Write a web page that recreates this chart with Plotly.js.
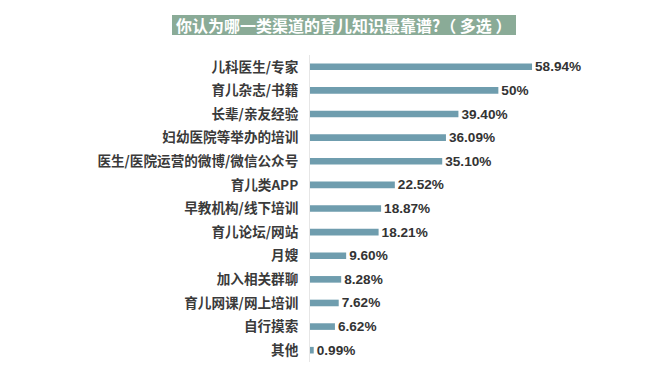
<!DOCTYPE html>
<html>
<head>
<meta charset="utf-8">
<script src="https://cdn.plot.ly/plotly-3.0.1.min.js"></script>
<style>html,body{margin:0;padding:0;background:#fff;}#chart{width:660px;height:372px;}</style>
</head>
<body>
<div id="chart"></div>
<script>
const categories = ["儿科医生/专家","育儿杂志/书籍","长辈/亲友经验","妇幼医院等举办的培训","医生/医院运营的微博/微信公众号","育儿类APP","早教机构/线下培训","育儿论坛/网站","月嫂","加入相关群聊","育儿网课/网上培训","自行摸索","其他"];
const values = [58.94, 50, 39.40, 36.09, 35.10, 22.52, 18.87, 18.21, 9.60, 8.28, 7.62, 6.62, 0.99];
const valueLabels = ["58.94%","50%","39.40%","36.09%","35.10%","22.52%","18.87%","18.21%","9.60%","8.28%","7.62%","6.62%","0.99%"];
const titleText = "你认为哪一类渠道的育儿知识最靠谱?（ 多选 ）";

const fontFam = "'Liberation Sans', Arial, 'Noto Sans CJK SC', sans-serif";

const trace = {
  type: 'bar',
  orientation: 'h',
  y: categories,
  x: values,
  text: valueLabels,
  textposition: 'outside',
  constraintext: 'none',
  cliponaxis: false,
  textfont: {family: fontFam, size: 13.6, color: '#333333', weight: 'bold'},
  marker: {color: '#6f9dae'},
  hoverinfo: 'none'
};

const layout = {
  width: 660, height: 372,
  margin: {l: 310, r: 20, t: 55, b: 10},
  paper_bgcolor: '#ffffff', plot_bgcolor: '#ffffff',
  bargap: 0.72,
  showlegend: false,
  uniformtext: {mode: false},
  xaxis: {range: [0, 87.6], visible: false, fixedrange: true},
  yaxis: {
    autorange: 'reversed',
    showline: true, linecolor: '#e6e6e6', linewidth: 1,
    ticks: '', showgrid: false, zeroline: false,
    ticklabelstandoff: 8,
    tickfont: {family: "'Noto Sans CJK SC', sans-serif", size: 13.6, color: '#3a3a3a', weight: 'bold'}
  },
  shapes: [{
    type: 'rect', xref: 'paper', yref: 'paper',
    x0: (172-310)/330, x1: (516-310)/330,
    y0: (362-35)/307, y1: (362-15)/307,
    fillcolor: '#8aab97', line: {width: 0}, layer: 'below'
  }],
  annotations: [{
    xref: 'paper', yref: 'paper',
    x: (344-310)/330, y: (362-25)/307,
    xanchor: 'center', yanchor: 'middle',
    text: titleText, showarrow: false,
    font: {family: "'Noto Sans CJK SC', sans-serif", size: 16, color: '#ffffff', weight: 'bold'}
  }]
};

Plotly.newPlot('chart', [trace], layout, {displayModeBar: false, staticPlot: true});
</script>
</body>
</html>
